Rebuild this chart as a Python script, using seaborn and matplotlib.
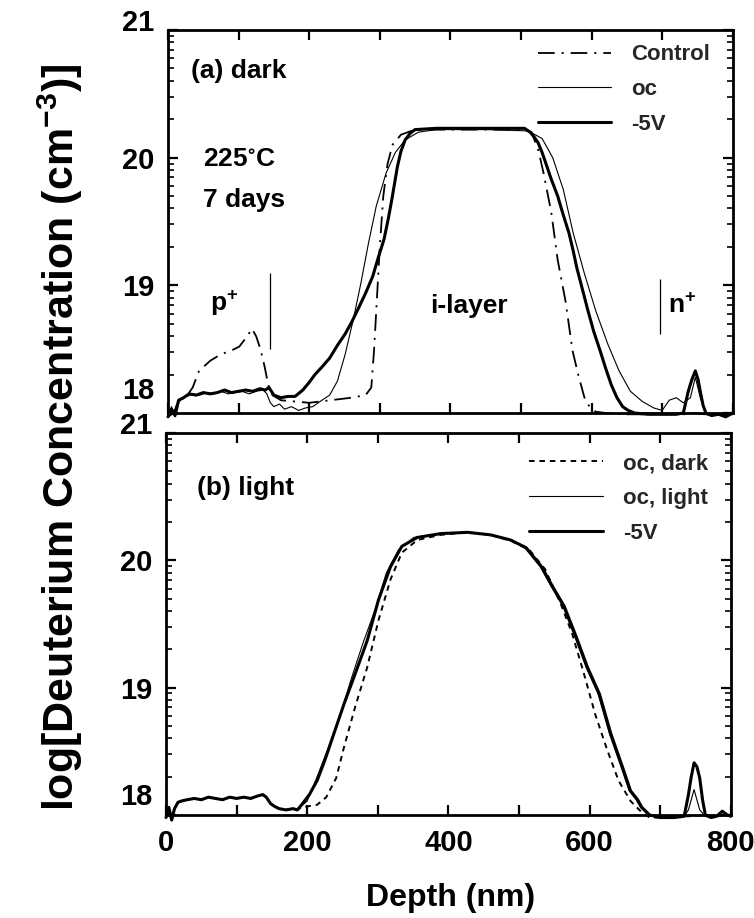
import numpy as np
import pandas as pd
import matplotlib
matplotlib.use("Agg")
import matplotlib.pyplot as plt
import matplotlib.transforms as mtransforms
import seaborn as sns

# ---------------- data: depth (nm) and log10 deuterium concentration ----------------
# (a) dark, 225 C, 7 days
ctrl_depth = [0, 8, 15, 25, 35, 44, 60, 75, 90, 101, 112, 119, 125, 131, 137, 142, 148, 160, 180,
              200, 230, 260, 280, 288, 292, 296, 300, 305, 311, 318, 330, 345, 360, 400, 450, 500,
              515, 525, 532, 543, 552, 563, 573, 582, 590, 598, 606, 620, 650, 700, 730, 745, 760,
              780, 800]
ctrl_conc = [17.97, 18.0, 18.1, 18.12, 18.2, 18.33, 18.41, 18.46, 18.49, 18.52, 18.6, 18.66, 18.6,
             18.5, 18.36, 18.22, 18.14, 18.1, 18.09, 18.08, 18.1, 18.12, 18.14, 18.2, 18.5, 18.9,
             19.3, 19.7, 19.95, 20.1, 20.18, 20.21, 20.22, 20.22, 20.22, 20.22, 20.2, 20.05, 19.88,
             19.57, 19.2, 18.88, 18.49, 18.28, 18.12, 18.04, 18.01, 18.0, 17.99, 17.99, 17.99,
             18.0, 17.99, 17.99, 17.99]

oc_depth = [0, 5, 10, 15, 20, 27, 35, 45, 55, 65, 75, 85, 95, 105, 115, 125, 135, 140, 145, 150,
            158, 165, 175, 185, 195, 205, 218, 229, 240, 251, 262, 273, 284, 295, 309, 322, 336,
            355, 380, 450, 510, 530, 545, 560, 574, 590, 606, 623, 639, 655, 672, 688, 700, 710,
            720, 730, 740, 747, 754, 762, 770, 780, 790, 800]
oc_conc = [17.98, 18.05, 17.97, 18.08, 18.12, 18.13, 18.15, 18.14, 18.16, 18.15, 18.17, 18.15,
           18.16, 18.17, 18.15, 18.17, 18.18, 18.15, 18.08, 18.05, 18.07, 18.03, 18.05, 18.02,
           18.04, 18.05, 18.1, 18.14, 18.25, 18.46, 18.72, 19.01, 19.33, 19.62, 19.88, 20.04,
           20.14, 20.2, 20.22, 20.22, 20.21, 20.15, 20.0, 19.75, 19.41, 19.09, 18.8, 18.54, 18.33,
           18.17, 18.09, 18.04, 18.02, 18.1, 18.12, 18.08, 18.12, 18.28, 18.12, 17.99, 17.98,
           17.99, 17.98, 18.0]

v5_depth = [0, 5, 10, 15, 22, 30, 40, 50, 60, 70, 80, 90, 100, 110, 120, 130, 138, 143, 150, 160,
            170, 180, 191, 200, 208, 218, 229, 240, 251, 260, 268, 280, 290, 298, 306, 312, 317,
            321, 325, 330, 336, 343, 350, 380, 450, 505, 513, 519, 524, 530, 535, 543, 552, 560,
            568, 574, 579, 587, 595, 603, 612, 620, 628, 636, 644, 652, 661, 680, 700, 720, 730,
            737, 742, 747, 751, 754, 758, 762, 770, 780, 790, 800]
v5_conc = [17.97, 18.03, 17.98, 18.1, 18.12, 18.15, 18.14, 18.16, 18.15, 18.16, 18.18, 18.16,
           18.17, 18.18, 18.17, 18.19, 18.18, 18.2, 18.14, 18.12, 18.13, 18.13, 18.18, 18.24,
           18.3, 18.36, 18.43, 18.53, 18.62, 18.71, 18.8, 18.94, 19.07, 19.22, 19.36, 19.52,
           19.67, 19.8, 19.93, 20.05, 20.14, 20.19, 20.22, 20.23, 20.23, 20.23, 20.2, 20.16,
           20.12, 20.04, 19.96, 19.83, 19.7, 19.55, 19.41, 19.27, 19.14, 18.97, 18.8, 18.64,
           18.49, 18.35, 18.22, 18.12, 18.05, 18.02, 18.0, 17.99, 17.99, 17.99, 18.0, 18.17,
           18.26, 18.33, 18.26, 18.17, 18.06, 18.0, 17.98, 17.99, 17.97, 18.0]

# (b) light
dark_b_depth = [0, 4, 8, 12, 17, 22, 30, 40, 50, 60, 70, 80, 90, 100, 110, 120, 130, 137, 142, 148,
                153, 160, 170, 180, 186, 192, 214, 227, 241, 252, 268, 285, 301, 318, 334, 356,
                389, 427, 460, 490, 515, 537, 559, 575, 592, 608, 625, 641, 658, 674, 685, 700,
                720, 740, 760, 780, 800]
dark_b_conc = [17.98, 18.05, 17.96, 18.05, 18.1, 18.11, 18.12, 18.13, 18.12, 18.14, 18.13, 18.12,
               18.14, 18.13, 18.14, 18.13, 18.15, 18.16, 18.14, 18.09, 18.07, 18.05, 18.04,
               18.05, 18.04, 18.06, 18.08, 18.14, 18.29, 18.53, 18.85, 19.16, 19.53, 19.85,
               20.06, 20.16, 20.2, 20.22, 20.2, 20.15, 20.08, 19.93, 19.66, 19.43, 19.11, 18.79,
               18.51, 18.27, 18.11, 18.02, 17.98, 17.98, 17.99, 17.99, 18.0, 17.99, 18.0]

light_b_depth = [0, 4, 8, 12, 17, 22, 30, 40, 50, 60, 70, 80, 90, 100, 110, 120, 130, 137, 142,
                 148, 153, 160, 170, 180, 186, 192, 200, 214, 230, 247, 263, 279, 296, 312, 329,
                 351, 389, 427, 460, 488, 508, 530, 546, 562, 579, 595, 612, 628, 645, 656, 666,
                 672, 683, 700, 720, 734, 740, 744, 748, 752, 756, 764, 772, 780, 788, 795, 800]
light_b_conc = [17.98, 18.06, 17.96, 18.05, 18.1, 18.11, 18.12, 18.13, 18.12, 18.14, 18.13, 18.12,
                18.14, 18.13, 18.14, 18.13, 18.15, 18.16, 18.14, 18.09, 18.07, 18.05, 18.04,
                18.05, 18.04, 18.07, 18.11, 18.3, 18.53, 18.79, 19.08, 19.35, 19.61, 19.9, 20.08,
                20.18, 20.21, 20.22, 20.2, 20.16, 20.1, 19.95, 19.79, 19.64, 19.4, 19.16, 18.95,
                18.64, 18.37, 18.19, 18.12, 18.06, 18.0, 17.98, 17.98, 17.99, 18.04, 18.12, 18.2,
                18.12, 18.04, 17.99, 17.98, 17.99, 18.03, 18.0, 17.99]

v5_b_depth = [0, 4, 8, 12, 17, 22, 30, 40, 50, 60, 70, 80, 90, 100, 110, 120, 130, 137, 142, 148,
              153, 160, 170, 180, 186, 192, 203, 214, 225, 236, 252, 268, 285, 301, 318, 334, 356,
              389, 427, 460, 488, 510, 532, 548, 564, 581, 597, 614, 630, 647, 658, 668, 674, 685,
              700, 720, 734, 740, 744, 748, 752, 756, 760, 764, 772, 780, 788, 795, 800]
v5_b_conc = [17.98, 18.06, 17.96, 18.05, 18.1, 18.11, 18.12, 18.13, 18.12, 18.14, 18.13, 18.12,
             18.14, 18.13, 18.14, 18.13, 18.15, 18.16, 18.14, 18.09, 18.07, 18.05, 18.04, 18.05,
             18.04, 18.08, 18.16, 18.27, 18.43, 18.61, 18.87, 19.11, 19.37, 19.69, 19.95, 20.11,
             20.18, 20.21, 20.22, 20.2, 20.16, 20.1, 19.95, 19.79, 19.64, 19.4, 19.16, 18.95,
             18.64, 18.37, 18.19, 18.12, 18.06, 18.0, 17.98, 17.98, 17.99, 18.16, 18.3, 18.41,
             18.38, 18.29, 18.12, 18.0, 17.98, 17.99, 18.03, 18.0, 17.99]

# layer boundary markers in panel (a): depth, bottom, top
p_boundary = [145, 18.5, 19.1]
n_boundary = [697, 18.62, 19.05]

x_ticks = [0, 200, 400, 600, 800]
y_ticks = [18, 19, 20, 21]

# ---------------- styling ----------------
sns.set_theme(style="ticks")
plt.rcParams["font.family"] = ["Liberation Sans", "DejaVu Sans"]
plt.rcParams["font.weight"] = "bold"
plt.rcParams["mathtext.fontset"] = "custom"
plt.rcParams["mathtext.rm"] = "Liberation Sans:bold"
plt.rcParams["mathtext.bf"] = "Liberation Sans:bold"
plt.rcParams["mathtext.default"] = "regular"
plt.rcParams["lines.scale_dashes"] = False

fig = plt.figure(figsize=(7.54, 9.18), dpi=100)
ax_a = fig.add_axes([0.2228, 0.5501, 0.749, 0.4172])
ax_b = fig.add_axes([0.2202, 0.1122, 0.749, 0.4161])

K = "black"
dash_ctrl = (0, (12, 5, 1.5, 5))
dash_dark = (0, (4, 3.5))


def draw(ax, depth, conc, label, lw, ls="-"):
    df = pd.DataFrame({"depth": depth, "conc": conc})
    sns.lineplot(data=df, x="depth", y="conc", ax=ax, color=K, linewidth=lw,
                 linestyle=ls, label=label, estimator=None, sort=False, clip_on=False)


draw(ax_a, ctrl_depth, ctrl_conc, "Control", 1.3, dash_ctrl)
draw(ax_a, oc_depth, oc_conc, "oc", 0.8)
draw(ax_a, v5_depth, v5_conc, "-5V", 2.2)

draw(ax_b, dark_b_depth, dark_b_conc, "oc, dark", 1.4, dash_dark)
draw(ax_b, light_b_depth, light_b_conc, "oc, light", 0.8)
draw(ax_b, v5_b_depth, v5_b_conc, "-5V", 2.2)

for x0, y0, y1 in (p_boundary, n_boundary):
    ax_a.vlines(x0, y0, y1, color=K, linewidth=0.9)

tick_fs = 21
for ax in (ax_a, ax_b):
    ax.set_xlim(0, 800)
    ax.set_ylim(18, 21)
    ax.set_xlabel("")
    ax.set_ylabel("")
    ax.set_xticks(x_ticks)
    ax.set_xticks([100, 300, 500, 700], minor=True)
    ax.set_yticks(y_ticks)
    minor_y = [d + np.log10(k) for d in (18, 19, 20) for k in range(2, 10)]
    ax.set_yticks(minor_y, minor=True)
    ax.tick_params(axis="both", which="both", direction="in", top=True, right=True,
                   colors=K, labelsize=tick_fs)
    ax.tick_params(axis="both", which="major", length=7, width=1.6, pad=10)
    ax.tick_params(axis="y", which="minor", length=4, width=1.2)
    ax.tick_params(axis="x", which="minor", length=7, width=1.6)
    for s in ax.spines.values():
        s.set_linewidth(2.0)
        s.set_color(K)
    for lab in ax.get_xticklabels() + ax.get_yticklabels():
        lab.set_fontweight("bold")

ax_a.tick_params(axis="x", labelbottom=False)

# lift the end labels of each y axis a little so the stacked panels' labels stay apart
lift = {18: 15, 21: 7}
for ax, extra in ((ax_a, 3), (ax_b, 0)):
    for tick in ax.yaxis.get_major_ticks():
        v = int(round(tick.get_loc()))
        dy = lift.get(v, 0) + (extra if v == 18 else 0)
        if dy:
            lab = tick.label1
            lab.set_transform(lab.get_transform() +
                              mtransforms.ScaledTranslation(0, dy / 72, fig.dpi_scale_trans))

leg_kw = dict(loc="upper right", frameon=False, fontsize=16,
              handlelength=3.3, handletextpad=0.9, labelspacing=0.62)
leg_a = ax_a.legend(bbox_to_anchor=(0.985, 1.0), borderaxespad=0.25, **leg_kw)
leg_b = ax_b.legend(bbox_to_anchor=(0.985, 0.985), borderaxespad=0.25, **leg_kw)
for leg in (leg_a, leg_b):
    for t in leg.get_texts():
        t.set_fontweight("bold")

ann = dict(color=K, fontsize=19, fontweight="bold")
ax_a.text(33, 20.68, "(a) dark", va="center", ha="left", **ann)
ax_a.text(49, 19.99, "225$^{\\circ}$C", va="center", ha="left", **ann)
ax_a.text(49, 19.67, "7 days", va="center", ha="left", **ann)
ax_a.text(60, 18.86, "p$^{+}$", va="center", ha="left", **ann)
ax_a.text(426, 18.84, "i-layer", va="center", ha="center", **ann)
ax_a.text(708, 18.84, "n$^{+}$", va="center", ha="left", **ann)
ax_b.text(44, 20.57, "(b) light", va="center", ha="left", **ann)

fig.text(0.598, 0.022, "Depth (nm)", ha="center", va="center", fontsize=23,
         fontweight="bold", color=K)
fig.text(0.080, 0.524, "log[Deuterium Concentration (cm$^{-3}$)]", ha="center",
         va="center", rotation=90, fontsize=31, fontweight="bold", color=K)

fig.savefig("out.png", dpi=100, facecolor="white")
